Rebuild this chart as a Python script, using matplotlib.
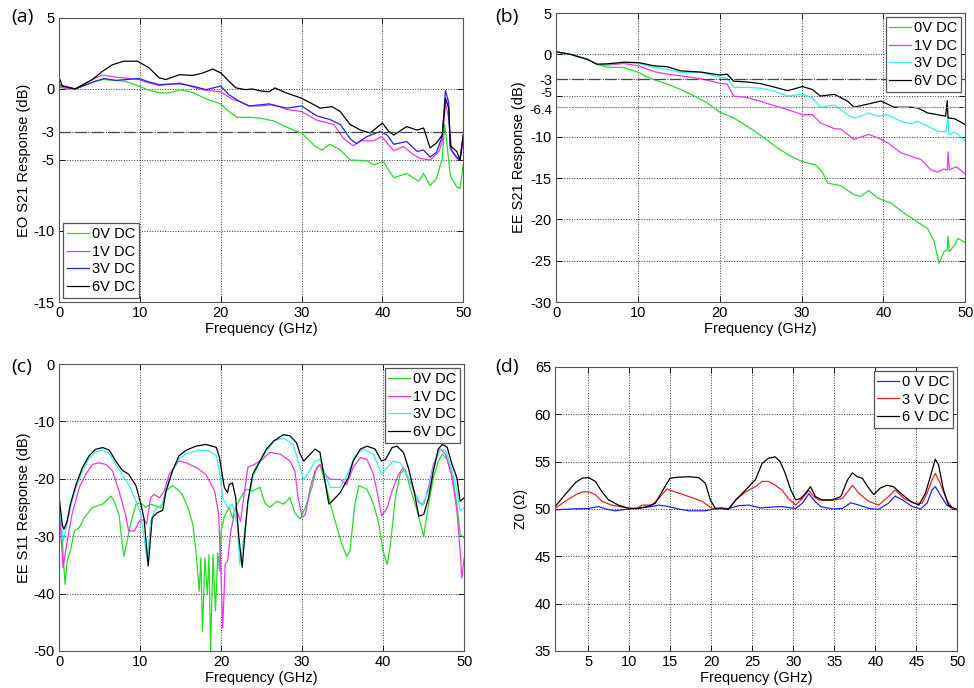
import matplotlib
matplotlib.use("Agg")
import matplotlib.pyplot as plt
import matplotlib.transforms as mtransforms

plt.rcParams['font.family'] = ['Liberation Sans', 'DejaVu Sans']
plt.rcParams['axes.unicode_minus'] = False

# ---- (a) EO S21 ----
a_0v_f = [0, 1, 2, 3, 4.5, 5.4, 7, 8.2, 9.9, 10.9, 12.4, 13.6, 15, 16.5, 18.2, 20, 21, 22, 23.5, 24.8,
          26.5, 29, 30, 31.7, 32.5, 33.5, 34.8, 36, 38.1, 38.9, 40.1, 41.4, 43, 44.5, 45.1, 45.9, 46.7,
          47.4, 47.7, 48.0, 48.4, 49.2, 49.6, 50]
a_0v = [0.2, 0, 0, 0.2, 0.54, 0.66, 0.6, 0.54, 0.19, -0.05, -0.28, -0.28, -0.05, -0.25, -0.7, -1.06, -1.58,
        -2.0, -2.0, -2.05, -2.25, -2.9, -3.1, -4.05, -4.3, -3.9, -4.3, -5.0, -5.05, -5.35, -5.1, -6.25,
        -5.95, -6.5, -5.95, -6.8, -6.3, -4.9, -2.5, -3.95, -6.1, -6.9, -7.0, -5.35]
a_1v_f = [0, 2, 4.5, 5.4, 7, 9.9, 11.1, 12.4, 15, 17.3, 18.2, 20, 21.5, 22.3, 23.5, 24.9, 26.5, 28.2, 30,
          31.9, 34, 35.2, 36.4, 37.3, 38.9, 39.9, 41.4, 42.6, 43.9, 44.7, 45.9, 47, 47.4, 47.8, 48.2, 48.6,
          49.2, 49.6, 50]
a_1v = [0.1, 0, 0.78, 0.97, 0.83, 0.66, 0.42, 0.24, 0.42, 0, -0.1, -0.2, -0.75, -0.87, -1.2, -1.2, -1.1,
        -1.45, -1.6, -2.2, -2.5, -3.5, -4.0, -3.65, -3.65, -3.35, -4.35, -4.05, -4.65, -4.9, -5.0, -4.4,
        -3.7, -1.0, -2.05, -4.4, -4.9, -5.0, -3.7]
a_3v_f = [0, 2, 4.5, 5.6, 7, 9.9, 11.1, 12.4, 14, 15, 16.5, 18.2, 20, 21, 22.3, 23.5, 26, 26.5, 28.2, 30,
          31.9, 33.5, 34.8, 36, 36.8, 38.1, 39.7, 40.6, 41.4, 43, 44.3, 45.1, 45.9, 46.7, 47.4, 47.8, 48.2,
          48.4, 49.2, 49.6, 50]
a_3v = [0.3, 0, 0.54, 0.73, 0.6, 0.73, 0.5, 0.3, 0.35, 0.35, 0.2, -0.05, 0.2, -0.4, -0.87, -1.2, -1.05,
        -1.15, -1.35, -1.2, -1.9, -2.15, -2.5, -3.5, -3.85, -3.35, -3.0, -3.25, -3.9, -3.7, -4.4, -4.3,
        -4.8, -4.45, -3.35, -0.1, -0.95, -4.2, -4.8, -5.0, -3.25]
a_6v_f = [0, 0.4, 2, 4.1, 5.4, 6.6, 8, 9.7, 11.1, 12.4, 13.2, 14.9, 16.5, 17.7, 19, 20, 21, 21.9, 23.1,
          23.9, 24.8, 26, 26.7, 28.2, 30, 32.3, 33.8, 34.8, 36, 37.3, 38.5, 40, 40.8, 41.4, 43, 44.3, 45.1,
          45.9, 46.7, 47.4, 47.8, 48.2, 48.4, 49.2, 49.6, 50]
a_6v = [0.83, 0.2, 0, 0.65, 1.25, 1.7, 1.95, 1.95, 1.5, 0.78, 0.66, 1.0, 0.95, 1.1, 1.4, 1.13, 0.55, 0.07,
        -0.05, 0.0, -0.13, -0.2, 0.07, -0.3, -0.65, -1.35, -1.25, -1.6, -2.5, -2.9, -3.1, -2.4, -3.0,
        -3.25, -2.65, -2.9, -2.75, -4.15, -3.8, -3.25, -0.65, -1.35, -4.0, -4.4, -5.0, -3.25]

# ---- (b) EE S21 ----
b_f_start = [0, 1.75, 3.8, 5]
b_start = [0.3, 0, -0.6, -1.2]
b_0v_f = [6.2, 8.3, 10.1, 11.5, 13.6, 15.2, 16.8, 18.5, 20, 21.7, 23.8, 25.4, 27, 28.7, 30.1, 31.7, 32.5,
          33.2, 34.8, 36.4, 37.2, 38.2, 39.3, 40.9, 42.5, 44.6, 45.4, 46.2, 46.8, 47.4, 47.8, 47.9, 48.05,
          48.7, 49.1, 50]
b_0v = [-1.55, -1.6, -2.2, -2.9, -3.6, -4.25, -5.0, -5.9, -7.0, -7.7, -9.0, -10.1, -11.3, -12.35, -13.0,
        -13.4, -14.2, -15.6, -15.9, -17.0, -17.2, -16.5, -17.4, -18.0, -19.2, -20.6, -21.1, -22.7, -25.3,
        -23.9, -23.7, -22.0, -23.9, -23.1, -22.3, -22.8]
b_1v_f = [6.2, 8.3, 10.1, 12, 13.6, 15.2, 17.7, 20, 20.9, 21.7, 23.4, 25, 26.6, 28.3, 30.1, 31.3, 32.3,
          34, 34.8, 36.4, 38.2, 39.3, 40.5, 42.1, 43.4, 44.6, 45.8, 46.6, 47.4, 47.8, 47.9, 48.05, 48.9, 50]
b_1v = [-1.3, -1.1, -1.4, -2.1, -2.4, -2.6, -2.95, -3.5, -3.6, -5.05, -5.25, -5.7, -6.2, -6.7, -7.3, -7.3,
        -8.3, -9.0, -9.05, -10.3, -9.7, -10.1, -10.7, -11.9, -12.35, -12.75, -14.0, -14.25, -13.9, -14.0,
        -11.8, -14.0, -13.6, -14.5]
b_3v_f = [6.2, 8.3, 10.1, 12, 13.6, 15.2, 17.7, 20, 20.9, 21.7, 23.4, 25, 26.6, 28.3, 30.1, 31.3, 32.3,
          34, 35.6, 36.4, 37.2, 38.2, 39.3, 40.5, 42.1, 43.4, 44.2, 45.4, 46.6, 47.6, 47.9, 48.0, 48.7, 50]
b_3v = [-1.2, -1.0, -1.1, -1.6, -1.8, -2.2, -2.2, -2.75, -2.9, -4.0, -4.0, -4.1, -4.45, -5.05, -4.85,
        -5.25, -6.4, -6.15, -7.3, -7.7, -7.5, -7.1, -7.5, -7.3, -8.1, -8.4, -8.1, -8.7, -9.3, -9.4, -7.5,
        -9.7, -9.4, -10.45]
b_6v_f = [6.2, 8.3, 10.1, 12, 13.6, 15.2, 17.7, 20, 20.9, 21.7, 23.4, 25, 26.6, 28.3, 30.1, 31.3, 32.3,
          34, 35.6, 36.4, 38.2, 39.7, 41.3, 43.4, 44.2, 45.4, 46.6, 47.6, 47.8, 47.9, 48.7, 50]
b_6v = [-1.15, -0.95, -1.0, -1.4, -1.5, -2.0, -2.15, -2.5, -2.4, -3.25, -3.35, -3.55, -3.95, -4.4, -3.9,
        -4.25, -5.05, -4.85, -5.65, -6.4, -6.0, -5.65, -6.4, -6.4, -6.5, -7.1, -7.3, -7.5, -5.6, -7.7,
        -7.8, -8.5]

# ---- (c) EE S11 ----
c_0v_f = [0, 0.4, 0.6, 0.75, 1, 1.4, 1.9, 2.5, 3.1, 4.1, 5.4, 6, 6.4, 6.8, 7.4, 7.8, 8, 8.4, 8.9, 9.5,
          10.1, 10.7, 11.3, 11.9, 12.6, 13.2, 14, 14.6, 15.2, 15.9, 16.5, 16.9, 17.3, 17.5, 17.7, 18, 18.3,
          18.5, 18.7, 19, 19.3, 19.6, 19.8, 20, 20.4, 21, 21.4, 21.8, 22.4, 23.1, 23.9, 24.8, 25.4, 26,
          26.9, 27.7, 28.5, 29.1, 29.75, 30.4, 31.2, 31.8, 32.2, 32.8, 33.5, 34.3, 34.9, 35.5, 35.9, 36.5,
          37, 38, 38.8, 39.4, 40, 40.5, 40.9, 41.5, 42.1, 42.7, 43.3, 44.2, 45, 45.6, 46.2, 46.8, 47.3,
          47.9, 48.5, 49.1, 49.5, 50]
c_0v = [-25.6, -30.3, -35.5, -38.4, -34.3, -32.6, -29.1, -28.5, -26.8, -25, -24.4, -23.6, -23, -23.9,
        -26.2, -31.4, -33.5, -30.9, -27.4, -24.4, -24.2, -25, -24.4, -24.7, -25, -22.1, -21.2, -21.8,
        -22.7, -25, -27.9, -32.6, -39.6, -33.8, -46.6, -33.8, -40.2, -33.2, -50, -33.2, -43, -32.9, -36,
        -29.1, -26.5, -25, -26.8, -25, -23.3, -21.8, -22.1, -21.5, -24.2, -25, -23.9, -24.4, -23.3, -25.9,
        -27, -25, -21.5, -18, -17.5, -20.4, -24.4, -28.5, -31.4, -33.5, -32.6, -24.4, -21.2, -21.8, -24.4,
        -27.4, -32.6, -34.9, -31.4, -23.3, -19.2, -18.3, -21.5, -25.6, -30, -24.4, -19.8, -16.9, -15.7,
        -16.6, -19.2, -24.4, -29.7, -30.3]
c_1v_f = [0, 0.5, 1, 1.6, 2.5, 3.3, 4.1, 4.9, 5.8, 6.6, 7.4, 8.2, 8.6, 9.3, 9.9, 10.5, 10.8, 11.3, 11.7,
          12.4, 13, 13.6, 14.8, 15.7, 16.9, 18.1, 19.2, 19.7, 20, 20.2, 20.5, 20.8, 21.2, 21.8, 22.4, 22.9,
          23.3, 24.1, 25.1, 26, 27.3, 28.5, 29.1, 29.5, 30, 30.4, 31, 31.6, 32.2, 32.8, 33.5, 34.7, 35.5,
          36.3, 37.2, 38, 38.8, 39.4, 39.8, 40.5, 41.1, 41.9, 42.5, 43.3, 44.4, 45, 45.6, 46.2, 47, 47.7,
          48.5, 49.1, 49.5, 49.7, 50]
c_1v = [-24.4, -35.5, -30.9, -26.2, -21.5, -19.2, -17.5, -17.2, -17.5, -18.6, -22.1, -26.2, -29.1, -29.1,
        -27.4, -27.1, -27.9, -23.3, -22.7, -23.3, -22.1, -19.2, -16.9, -17.2, -18, -19.2, -22.1, -26.2,
        -37.3, -46, -34.9, -34.3, -29.1, -25, -27.4, -22.1, -18, -17.5, -16.6, -15.4, -15.7, -16.9, -18.6,
        -23.3, -26.8, -26.2, -21.5, -18.6, -17.5, -19.2, -20.1, -20.1, -21, -18, -16.3, -16.6, -19.2,
        -23.3, -26.5, -25, -22.1, -19.2, -18, -20.4, -24.2, -24.4, -21.5, -17.5, -14.8, -15.7, -19.8,
        -25.6, -32.6, -37.3, -33.8]
c_3v_f = [0, 0.5, 0.8, 1.4, 2.1, 2.9, 3.7, 4.5, 5.4, 6.2, 7, 7.8, 8.6, 9.5, 10.1, 10.6, 10.9, 11.3, 11.9,
          12.8, 13.4, 14, 14.8, 15.7, 17.3, 18.5, 19.4, 19.8, 20.2, 20.8, 21.4, 22, 22.3, 22.7, 23.3, 23.9,
          24.8, 25.6, 26.5, 27.7, 28.9, 29.5, 30.2, 30.8, 31.6, 32.2, 32.8, 33.5, 34.7, 35.7, 36.5, 37.6,
          38.8, 39.8, 40.5, 41.3, 42.1, 42.9, 44.2, 44.8, 45.6, 46.2, 47, 47.7, 48.3, 49.1, 49.5, 50]
c_3v = [-23.3, -30.9, -29.1, -25, -21.5, -18.6, -16.5, -15.25, -15, -15.6, -17.5, -19.2, -21, -23.9,
        -26.2, -31.4, -34.3, -27.4, -25.3, -24.4, -21.5, -18.6, -16.6, -15.6, -15, -15.1, -16, -18.6,
        -23.3, -25, -24.4, -27.9, -34.9, -31.4, -24.4, -19.8, -16.9, -15.25, -13.4, -12.9, -14, -16.9,
        -20.1, -18.9, -16.9, -16.6, -19.2, -21.5, -21.5, -18.9, -16, -14.8, -15.7, -19.2, -18, -16.9, -17.2,
        -19.2, -23.3, -24.7, -22.1, -18, -14.8, -15.1, -17.5, -22.1, -25.6, -25]
c_6v_f = [0, 0.4, 0.6, 1, 1.4, 2.1, 2.9, 3.7, 4.5, 5.4, 6.2, 7, 7.8, 8.6, 9.5, 10.1, 10.5, 11, 11.5, 12.1,
          12.8, 13.2, 14, 14.8, 15.7, 16.9, 18.1, 19.4, 19.8, 20.4, 20.8, 21, 21.4, 21.8, 22.2, 22.6, 22.9,
          23.3, 23.9, 24.8, 25.6, 26.5, 27.7, 28.5, 29.3, 29.75, 30.2, 30.8, 31.6, 32.2, 32.6, 33.3, 33.7,
          34.7, 35.7, 36.3, 37.2, 38, 39, 39.8, 40.3, 41.1, 41.7, 42.5, 43.1, 43.8, 44.4, 45, 45.6, 46.2,
          46.8, 47.3, 47.9, 48.5, 49.1, 49.5, 50]
c_6v = [-23, -28, -28.8, -27.4, -24.4, -21, -18, -16, -14.85, -14.55, -15, -16.9, -18.5, -19.2, -21.2,
        -24.4, -27, -35.2, -26.8, -25.9, -25.5, -22.1, -18.6, -16, -15, -14.3, -14, -14.5, -16.3, -21.5,
        -22.4, -21, -20.7, -23.3, -30.3, -35.4, -30.3, -23.9, -19.2, -16.9, -14.8, -13.4, -12.3, -12.5,
        -13.7, -15.7, -16.9, -16, -14.8, -15.4, -18.6, -24.4, -23.9, -22.4, -19.8, -16.9, -14.8, -14.3,
        -14.8, -16.9, -16.6, -14.55, -14.3, -15.4, -18, -22.1, -26.5, -26.2, -23.3, -18.6, -14.8, -14,
        -14.5, -17.5, -19.8, -23.9, -23.3]

# ---- (d) Z0 ----
d_0v_f = [1, 3.05, 5.08, 6.3, 7.1, 8.3, 10, 12.4, 13.6, 14.8, 16, 17.3, 19.3, 20.5, 22.1, 23.4, 24.6, 26,
          27.4, 28.6, 30.3, 31.1, 31.9, 32.5, 33.3, 34.7, 36, 37, 38, 39.2, 40.4, 41.6, 42.4, 43.3, 44.5,
          45.5, 46.3, 46.9, 47.3, 47.9, 48.7, 49.4, 50]
d_0v = [49.9, 50, 50.05, 50.25, 50.0, 49.8, 50.0, 50.2, 50.4, 50.25, 50.0, 49.8, 49.8, 50.0, 50.05, 50.35,
        50.4, 50.1, 50.2, 50.25, 50.05, 50.6, 51.6, 50.95, 50.25, 50.0, 50.05, 50.65, 50.4, 50.05, 49.95,
        50.6, 51.35, 50.95, 50.25, 50.0, 50.6, 52.0, 52.35, 51.5, 50.4, 50.05, 49.9]
d_3v_f = [1, 2.2, 3.5, 4.3, 5.1, 5.9, 6.7, 7.9, 9.1, 10.8, 11.6, 12.8, 13.6, 14.6, 15.6, 17.3, 18.9, 20.1,
          21.3, 22.1, 23, 24.2, 25.4, 26.2, 27, 27.8, 28.6, 29.4, 30.3, 31.1, 31.9, 32.5, 33.1, 34.7, 36,
          36.8, 37.2, 38, 39.2, 40.4, 41.6, 42.4, 43.5, 44.7, 45.7, 46.3, 46.9, 47.3, 47.9, 48.7, 49.4, 50]
d_3v = [50.05, 50.8, 51.5, 51.8, 51.8, 51.5, 50.8, 50.4, 50.2, 50.0, 50.4, 50.4, 51.1, 52.1, 51.8, 51.3,
        50.8, 50.05, 50.05, 49.95, 50.95, 51.8, 52.35, 52.9, 52.9, 52.5, 52.0, 51.1, 50.4, 51.1, 51.95,
        51.3, 50.95, 50.9, 51.1, 52.0, 52.5, 51.65, 50.8, 50.4, 51.3, 52.0, 51.1, 50.6, 50.6, 51.65, 53.05,
        53.75, 52.7, 50.95, 50.05, 49.9]
d_6v_f = [1, 2.2, 3.5, 4.3, 5.1, 5.9, 6.7, 7.5, 8.7, 10, 11.2, 12.4, 13.2, 14.4, 15, 16, 17.3, 18.5, 19.3,
          19.9, 20.5, 21.3, 22.1, 23, 24.2, 25.4, 26.2, 27, 27.8, 28.4, 29, 29.7, 30.3, 30.9, 31.5, 32.1,
          32.7, 33.5, 34.7, 35.8, 36.6, 37.2, 37.8, 38.4, 39.2, 39.8, 40.6, 41.4, 42.2, 43.3, 44.3, 45.3,
          46.1, 46.7, 47.3, 47.7, 48.3, 48.9, 49.6, 50]
d_6v = [50.25, 51.5, 52.8, 53.25, 53.3, 52.9, 51.8, 50.95, 50.4, 50.05, 50.05, 50.3, 50.6, 52.4, 53.25,
        53.35, 53.4, 53.3, 52.7, 50.95, 50.05, 50.1, 49.95, 50.95, 52.0, 53.1, 54.8, 55.35, 55.5, 55.0,
        53.8, 52.0, 50.95, 51.1, 51.65, 52.35, 51.3, 50.95, 50.95, 51.3, 53.05, 53.8, 53.4, 53.25, 52.2,
        51.5, 52.2, 52.5, 52.35, 51.5, 50.8, 50.4, 51.65, 53.4, 55.25, 54.65, 52.0, 50.4, 50.05, 49.95]

GREEN, MAGENTA, BLUE, CYAN, RED = '#22dd22', '#ee33ee', '#2222ee', '#33eeee', '#ee2222'
LW = 0.9


def style_axes(ax):
    ax.grid(True, linestyle=':', color='#333333', linewidth=0.7)
    ax.tick_params(direction='in', length=4, width=0.6, labelsize=10.5, top=True, right=True, pad=3)
    for s in ax.spines.values():
        s.set_color('#555555')
        s.set_linewidth(0.8)
    ax.set_xlabel('Frequency (GHz)', fontsize=10.5, labelpad=1)


def add_legend(ax, loc):
    leg = ax.legend(loc=loc, fontsize=10.5, fancybox=False, edgecolor='#555555', framealpha=1,
                    handlelength=1.5, handletextpad=0.2, borderpad=0.25, labelspacing=0.25,
                    borderaxespad=0.3)
    leg.get_frame().set_linewidth(0.9)


fig = plt.figure(figsize=(9.74, 6.88), dpi=100)

# (a)
ax = fig.add_axes([0.0606, 0.561, 0.415, 0.413])
ax.plot(a_0v_f, a_0v, color=GREEN, lw=LW, label='0V DC')
ax.plot(a_1v_f, a_1v, color=MAGENTA, lw=LW, label='1V DC')
ax.plot(a_3v_f, a_3v, color=BLUE, lw=LW, label='3V DC')
ax.plot(a_6v_f, a_6v, color='black', lw=LW, label='6V DC')
ax.axhline(-3, color='#444444', lw=0.9, dashes=(9, 4))
ax.set_xlim(0, 50)
ax.set_ylim(-15, 5)
ax.set_yticks([-15, -10, -5, -3, 0, 5])
ax.set_xticks([0, 10, 20, 30, 40, 50])
style_axes(ax)
ax.set_ylabel('EO S21 Response (dB)', fontsize=10.5, labelpad=2)
add_legend(ax, 'lower left')
fig.text(0.012, 0.975, '(a)', fontsize=14, family='Open Sans', va='center')

# (b)
ax = fig.add_axes([0.571, 0.561, 0.420, 0.420])
ax.plot(b_f_start + b_0v_f, b_start + b_0v, color=GREEN, lw=LW, label='0V DC')
ax.plot(b_f_start + b_1v_f, b_start + b_1v, color=MAGENTA, lw=LW, label='1V DC')
ax.plot(b_f_start + b_3v_f, b_start + b_3v, color=CYAN, lw=LW, label='3V DC')
ax.plot(b_f_start + b_6v_f, b_start + b_6v, color='black', lw=LW, label='6V DC')
ax.axhline(-3, color='#444444', lw=0.9, dashes=(9, 4))
ax.axhline(-6.4, color='#aaaaaa', lw=0.9, dashes=(9, 4))
ax.set_xlim(0, 50)
ax.set_ylim(-30, 5)
ax.set_yticks([-30, -25, -20, -15, -10, -6.4, -5, -3, 0, 5])
ax.set_yticklabels(['-30', '-25', '-20', '-15', '-10', '-6.4', '-5', '-3', '0', '5'])
ax.set_xticks([0, 10, 20, 30, 40, 50])
style_axes(ax)
# the -5 and -6.4 labels sit very close, nudge them apart a little
for lab in ax.get_yticklabels():
    if lab.get_text() in ('-5', '-6.4'):
        lab.set_fontsize(9.5)
        dy = 2 / 72 if lab.get_text() == '-5' else -2 / 72
        lab.set_transform(lab.get_transform() + mtransforms.ScaledTranslation(0, dy, fig.dpi_scale_trans))
ax.set_ylabel('EE S21 Response (dB)', fontsize=10.5, labelpad=2)
add_legend(ax, 'upper right')
fig.text(0.508, 0.975, '(b)', fontsize=14, family='Open Sans', va='center')

# (c)
ax = fig.add_axes([0.0606, 0.0538, 0.416, 0.417])
ax.plot(c_0v_f, c_0v, color=GREEN, lw=LW, label='0V DC')
ax.plot(c_1v_f, c_1v, color=MAGENTA, lw=LW, label='1V DC')
ax.plot(c_3v_f, c_3v, color=CYAN, lw=LW, label='3V DC')
ax.plot(c_6v_f, c_6v, color='black', lw=LW, label='6V DC')
ax.set_xlim(0, 50)
ax.set_ylim(-50, 0)
ax.set_yticks([-50, -40, -30, -20, -10, 0])
ax.set_xticks([0, 10, 20, 30, 40, 50])
style_axes(ax)
ax.set_ylabel('EE S11 Response (dB)', fontsize=10.5, labelpad=2)
add_legend(ax, 'upper right')
fig.text(0.012, 0.466, '(c)', fontsize=14, family='Open Sans', va='center')

# (d)
ax = fig.add_axes([0.570, 0.0538, 0.413, 0.413])
ax.plot(d_0v_f, d_0v, color=BLUE, lw=LW, label='0 V DC')
ax.plot(d_3v_f, d_3v, color=RED, lw=LW, label='3 V DC')
ax.plot(d_6v_f, d_6v, color='black', lw=LW, label='6 V DC')
ax.set_xlim(1, 50)
ax.set_ylim(35, 65)
ax.set_yticks([35, 40, 45, 50, 55, 60, 65])
ax.set_xticks([5, 10, 15, 20, 25, 30, 35, 40, 45, 50])
style_axes(ax)
ax.set_ylabel('Z0 (\u03a9)', fontsize=10, labelpad=5)
add_legend(ax, 'upper right')
fig.text(0.508, 0.466, '(d)', fontsize=14, family='Open Sans', va='center')

fig.savefig('out.png', dpi=100)
